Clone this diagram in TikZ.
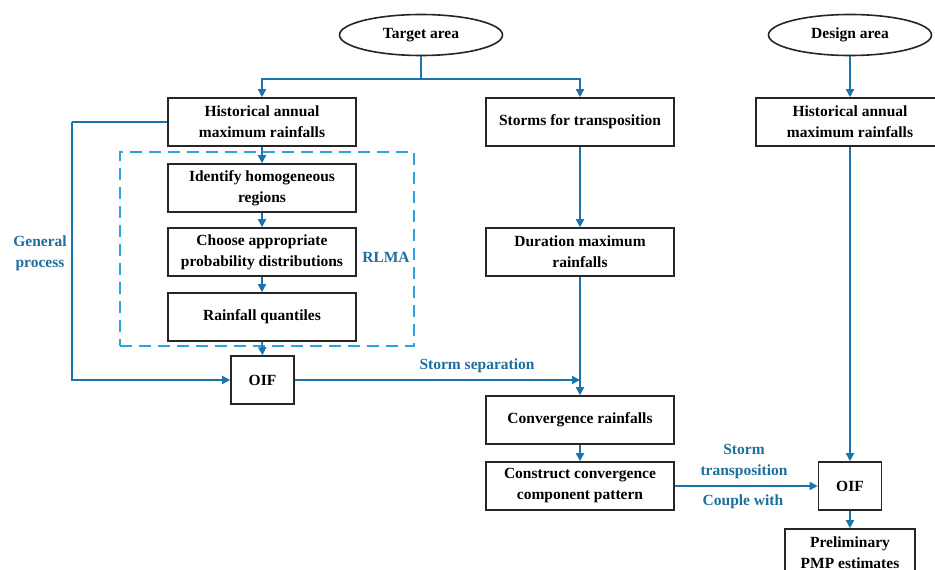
\documentclass[tikz,border=0pt]{standalone}
\usepackage{fontspec}
\setmainfont{Liberation Serif}
\usetikzlibrary{arrows.meta,shapes.geometric}
\definecolor{flow}{HTML}{1A74AE}
\definecolor{dash}{HTML}{2AA3E0}
\definecolor{lbl}{HTML}{1E6E9E}
\tikzset{
  txt/.style={font=\fontsize{15.5}{21}\selectfont\bfseries},
  box/.style={txt, draw=black!85, line width=1.6pt, fill=white, minimum width=188pt, minimum height=48pt, align=center, inner sep=2pt},
  oval/.style={txt, draw=black!85, line width=1.6pt, ellipse, minimum width=163pt, minimum height=41pt},
  link/.style={draw=flow, line width=1.6pt},
  arr/.style={link, -{Triangle[length=8pt,width=8pt]}},
  note/.style={txt, text=lbl, align=center},
}
\begin{document}
\begin{tikzpicture}[x=1pt,y=-1pt]
\useasboundingbox (0,0) rectangle (935,570);
% dashed RLMA box
\node[draw=dash, line width=1.6pt, dash pattern=on 12pt off 7pt, minimum width=294pt, minimum height=194pt, inner sep=0pt] (rlma) at (267,249) {};
% nodes
\node[oval] (target) at (421,35) {Target area};
\node[oval] (design) at (850,35) {Design area};
\node[box] (hist1) at (262,122) {Historical annual\\maximum rainfalls};
\node[box] (storms) at (580,122) {Storms for transposition};
\node[box] (hist2) at (850,122) {Historical annual\\maximum rainfalls};
\node[box] (ident) at (262,188) {Identify homogeneous\\regions};
\node[box] (choose) at (262,252) {Choose appropriate\\probability distributions};
\node[box] (quant) at (262,317) {Rainfall quantiles};
\node[box, minimum width=63pt] (oif1) at (262.5,380) {OIF};
\node[box] (dur) at (580,252) {Duration maximum\\rainfalls};
\node[box] (conv) at (580,420) {Convergence rainfalls};
\node[box] (cons) at (580,486) {Construct convergence\\component pattern};
\node[box, minimum width=63pt] (oif2) at (850,486) {OIF};
\node[box, minimum width=130pt] (prelim) at (850,553) {Preliminary\\PMP estimates};
% labels
\node[note] (gp) at (40,253) {General\\process};
\node[note] (rl) at (386,257) {RLMA};
\node[note] (ss) at (477,366) {Storm separation};
\node[note] (st) at (744,462) {Storm\\transposition};
\node[note] (cw) at (743,502) {Couple with};
% connectors
\coordinate (split) at (421,79);
\coordinate (gpc) at (72,122);
\coordinate (sep) at (oif1.east -| dur.south);
\draw[link] (target.south) -- (split);
\draw[arr] (split) -| (hist1.north);
\draw[arr] (split) -| (storms.north);
\draw[arr] (design.south) -- (hist2.north);
\draw[arr] (hist1.south) -- (ident.north);
\draw[arr] (ident.south) -- (choose.north);
\draw[arr] (choose.south) -- (quant.north);
\draw[arr] (quant.south) -- (oif1.north);
\draw[link] (hist1.west) -- (gpc);
\draw[arr] (gpc) |- (oif1.west);
\draw[arr] (oif1.east) -- (sep);
\draw[arr] (storms.south) -- (dur.north);
\draw[arr] (dur.south) -- (conv.north);
\draw[arr] (conv.south) -- (cons.north);
\draw[arr] (cons.east) -- (oif2.west);
\draw[arr] (hist2.south) -- (oif2.north);
\draw[arr] (oif2.south) -- (prelim.north);
\end{tikzpicture}
\end{document}
